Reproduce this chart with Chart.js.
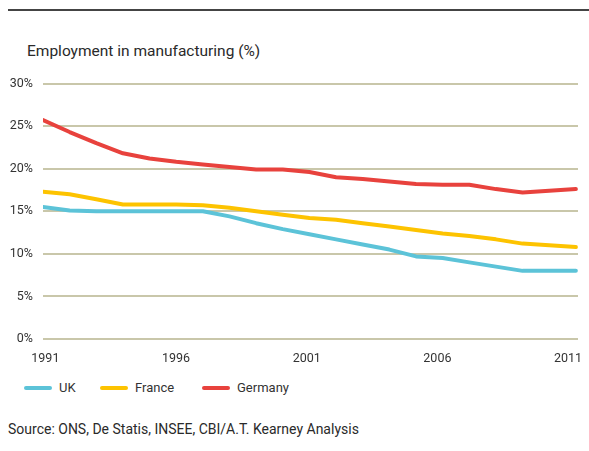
<!DOCTYPE html>
<html>
<head>
<meta charset="utf-8">
<script src="https://cdn.jsdelivr.net/npm/chart.js@4.4.1/dist/chart.umd.min.js"></script>
<style>
  html, body { margin: 0; padding: 0; background: #fff; }
  body { width: 589px; height: 451px; position: relative; overflow: hidden; font-family: Roboto, "DejaVu Sans", sans-serif; color: #333; }
  .rule { position: absolute; left: 8px; right: 0; top: 9px; height: 2px; background: #444; }
  .title { position: absolute; left: 27px; top: 42px; font-size: 15.5px; color: #2a2a2a; }
  .wrap { position: absolute; left: 0; top: 66px; width: 589px; height: 304px; }
  .legend { position: absolute; top: 380px; left: 0; font-size: 13px; color: #333; }
  .legend span.item { position: absolute; white-space: nowrap; line-height: 16px; }
  .legend i { display: inline-block; width: 28px; height: 4px; border-radius: 2px; vertical-align: middle; margin-right: 7px; position: relative; top: -1px; }
  .source { position: absolute; left: 8px; top: 421px; font-size: 14px; color: #2a2a2a; }
</style>
</head>
<body>
<div class="rule"></div>
<div class="title">Employment in manufacturing (%)</div>
<div class="wrap"><canvas id="grafico"></canvas></div>
<div class="legend" id="legenda"></div>
<div class="source">Source: ONS, De Statis, INSEE, CBI/A.T. Kearney Analysis</div>
<script>
// dados
const years = [1991, 1992, 1993, 1994, 1995, 1996, 1997, 1998, 1999, 2000, 2001,
               2002, 2003, 2004, 2005, 2006, 2007, 2008, 2009, 2010, 2011];
const uk      = [15.5, 15.1, 15.0, 15.0, 15.0, 15.0, 15.0, 14.4, 13.6, 12.9, 12.3,
                 11.7, 11.1, 10.5, 9.7, 9.5, 9.0, 8.5, 8.0, 8.0, 8.0];
const france  = [17.3, 17.0, 16.4, 15.8, 15.8, 15.8, 15.7, 15.4, 15.0, 14.6, 14.2,
                 14.0, 13.6, 13.2, 12.8, 12.4, 12.1, 11.7, 11.2, 11.0, 10.8];
const germany = [25.7, 24.3, 23.0, 21.8, 21.2, 20.8, 20.5, 20.2, 19.9, 19.9, 19.6,
                 19.0, 18.8, 18.5, 18.2, 18.1, 18.1, 17.6, 17.2, 17.4, 17.6];
const xTicks = [1991, 1996, 2001, 2006, 2011];
const yTicks = [0, 5, 10, 15, 20, 25, 30];

const series = [
  { label: 'UK', data: uk, color: '#5cc3d8' },
  { label: 'France', data: france, color: '#fdc300' },
  { label: 'Germany', data: germany, color: '#e8423d' }
];

// legenda em html
const legenda = document.getElementById('legenda');
const legendX = [24, 100, 202];
series.forEach((s, i) => {
  const el = document.createElement('span');
  el.className = 'item';
  el.style.left = legendX[i] + 'px';
  el.innerHTML = '<i style="background:' + s.color + '"></i>' + s.label;
  legenda.appendChild(el);
});

const ctx = document.getElementById('grafico');
new Chart(ctx, {
  type: 'line',
  data: {
    datasets: series.map(s => ({
      label: s.label,
      data: s.data.map((v, i) => ({ x: years[i], y: v })),
      borderColor: s.color,
      borderWidth: 4,
      pointRadius: 0,
      tension: 0,
      borderCapStyle: 'round',
      borderJoinStyle: 'round'
    })).reverse()
  },
  options: {
    responsive: true,
    maintainAspectRatio: false,
    animation: false,
    layout: { padding: { top: 0, left: 0, right: 11, bottom: 0 } },
    scales: {
      // eixo dos dados (oculto)
      x: {
        type: 'linear',
        display: false,
        min: 1991,
        max: 2011.08
      },
      // eixo só com os rótulos dos anos, um pouco mais comprimido como no original
      xl: {
        type: 'linear',
        position: 'bottom',
        min: 1990.91,
        max: 2011.38,
        border: { display: false },
        grid: { display: false, drawTicks: true, tickLength: 12 },
        afterBuildTicks: scale => { scale.ticks = xTicks.map(v => ({ value: v })); },
        afterFit: scale => { scale.height = 31; },
        ticks: {
          callback: v => String(v),
          maxRotation: 0,
          autoSkip: false,
          padding: 0,
          color: '#333',
          font: { family: 'Roboto', size: 12.5 }
        }
      },
      y: {
        min: 0,
        max: 30,
        border: { display: false },
        grid: { color: '#c9c7aa', lineWidth: 2, drawTicks: false },
        afterBuildTicks: scale => { scale.ticks = yTicks.map(v => ({ value: v })); },
        afterFit: scale => { scale.width = 43; },
        ticks: {
          callback: v => v + '%',
          padding: 10,
          color: '#333',
          font: { family: 'Roboto', size: 12.5 }
        }
      }
    },
    plugins: {
      legend: { display: false },
      title: { display: false },
      tooltip: { enabled: false }
    }
  }
});
</script>
</body>
</html>
